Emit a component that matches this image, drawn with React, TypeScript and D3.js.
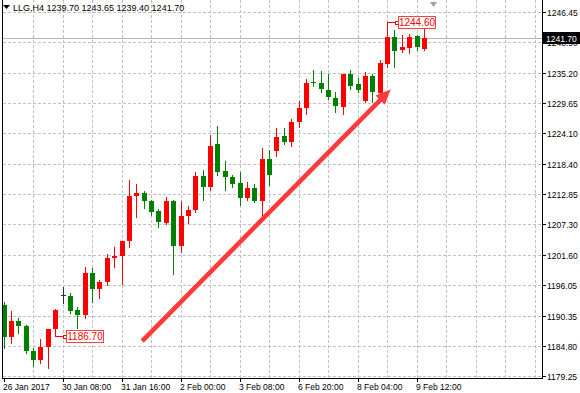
import React, { useEffect, useRef } from "react";
import * as d3 from "d3";

// LLG, H4 bars (26 Jan 2017 .. 9 Feb 2017)
const symbol = "LLG,H4";
const opens = [
  1192.35, 1186.4, 1189.4, 1188.4, 1183.9, 1182.2, 1184.6, 1187.9, 1194.2, 1194.0,
  1191.4, 1190.5, 1198.25, 1195.3, 1196.65, 1201.1, 1201.4, 1204.2, 1212.5, 1212.95,
  1211.55, 1209.7, 1207.45, 1211.6, 1203.3, 1208.85, 1209.9, 1216.15, 1214.2, 1222.0,
  1217.1, 1216.0, 1214.8, 1212.05, 1213.9, 1211.6, 1219.3, 1220.85, 1223.55, 1222.4,
  1226.1, 1228.8, 1233.6, 1233.4, 1232.05, 1230.65, 1228.9, 1234.95, 1233.1, 1230.05,
  1234.7, 1231.55, 1236.85, 1241.8, 1239.4, 1239.75, 1242.0, 1239.7
];
const highs = [
  1193.0, 1191.25, 1190.0, 1188.6, 1184.4, 1186.1, 1188.0, 1191.6, 1195.75, 1194.6,
  1192.0, 1199.4, 1199.2, 1197.0, 1201.7, 1203.05, 1204.2, 1215.45, 1214.7, 1213.4,
  1211.75, 1210.1, 1212.3, 1211.65, 1211.6, 1210.7, 1216.85, 1217.3, 1223.75, 1225.4,
  1218.95, 1216.35, 1216.85, 1215.1, 1214.7, 1221.3, 1221.0, 1225.0, 1225.0, 1226.7,
  1230.05, 1234.0, 1235.75, 1235.55, 1234.95, 1231.7, 1235.0, 1235.75, 1234.2, 1235.45,
  1234.95, 1237.6, 1244.6, 1243.1, 1242.2, 1242.4, 1242.2, 1243.65
];
const lows = [
  1184.4, 1185.35, 1187.25, 1183.45, 1181.1, 1181.65, 1180.7, 1186.7, 1192.8, 1190.9,
  1188.1, 1189.95, 1193.0, 1193.65, 1196.05, 1199.45, 1196.25, 1203.0, 1208.65, 1210.25,
  1208.95, 1206.8, 1207.3, 1198.1, 1202.1, 1207.45, 1209.45, 1211.75, 1213.6, 1216.35,
  1213.6, 1214.1, 1210.8, 1211.75, 1211.3, 1208.2, 1214.5, 1219.85, 1222.0, 1221.7,
  1225.25, 1227.6, 1232.85, 1231.7, 1230.35, 1228.0, 1227.6, 1232.25, 1231.75, 1229.9,
  1229.9, 1230.0, 1236.35, 1236.35, 1239.1, 1238.85, 1239.45, 1239.4
];
const closes = [
  1186.4, 1189.4, 1188.5, 1183.85, 1182.2, 1184.6, 1187.9, 1191.4, 1194.2, 1191.3,
  1190.5, 1198.25, 1195.3, 1196.65, 1201.1, 1201.4, 1204.15, 1212.5, 1213.0, 1211.55,
  1209.45, 1207.6, 1211.6, 1203.3, 1208.85, 1209.9, 1216.15, 1214.2, 1221.75, 1216.85,
  1216.0, 1214.7, 1212.05, 1214.0, 1211.6, 1219.3, 1216.35, 1223.3, 1222.4, 1226.1,
  1228.8, 1233.4, 1233.3, 1232.2, 1230.8, 1229.1, 1234.95, 1232.8, 1232.05, 1234.7,
  1231.75, 1237.1, 1241.8, 1239.3, 1239.95, 1241.8, 1239.95, 1241.7
];

const priceTicks = [
  1246.45, 1240.9, 1235.2, 1229.65, 1224.1, 1218.4, 1212.85, 1207.3, 1201.6, 1196.05,
  1190.35, 1184.8, 1179.25
];
const dateLabels = [
  "26 Jan 2017", "30 Jan 08:00", "31 Jan 16:00", "2 Feb 00:00",
  "3 Feb 08:00", "6 Feb 20:00", "8 Feb 04:00", "9 Feb 12:00"
];
const dateLabelBars = [0, 8, 16, 24, 32, 40, 48, 56];
const bidPrice = 1241.7;
// price labels hung on bars
const priceMarks = [
  { bar: 7, price: 1186.7 },
  { bar: 52, price: 1244.6 }
];
// drawn trend arrow (bar index, price)
const arrowFrom = { bar: 18.8, price: 1185.7 };
const arrowTo = { bar: 52.5, price: 1232.15 };

const width = 580;
const height = 393;
const frame = { left: 3, right: 542, bottom: 378 };
const barStep = 7.375;
const font = "'Liberation Sans', Arial, sans-serif";

export default function App() {
  const ref = useRef<SVGSVGElement>(null);

  useEffect(() => {
    const svg = d3.select(ref.current);
    svg.selectAll("*").remove();

    const x = d3.scaleLinear().domain([0, 72]).range([3.5, 3.5 + 72 * barStep]);
    const y = d3.scaleLinear().domain([1179.25, 1246.45]).range([376, 12]);
    const fmt = d3.format(".2f");
    const px = (i: number) => Math.round(x(i));

    svg.append("rect").attr("width", width).attr("height", height).attr("fill", "#fff");

    svg
      .append("defs")
      .append("clipPath")
      .attr("id", "plot")
      .append("rect")
      .attr("x", frame.left)
      .attr("y", 0)
      .attr("width", frame.right - frame.left)
      .attr("height", frame.bottom);

    const plot = svg.append("g").attr("clip-path", "url(#plot)");

    // grid
    const grid = plot
      .append("g")
      .attr("stroke", "#c0c0c0")
      .attr("stroke-dasharray", "3,2")
      .attr("shape-rendering", "crispEdges");
    grid
      .selectAll("line.h")
      .data(priceTicks)
      .join("line")
      .attr("class", "h")
      .attr("x1", frame.left)
      .attr("x2", frame.right)
      .attr("y1", d => Math.round(y(d)) + 0.5)
      .attr("y2", d => Math.round(y(d)) + 0.5);
    grid
      .selectAll("line.v")
      .data(d3.range(4, 73, 4))
      .join("line")
      .attr("class", "v")
      .attr("x1", d => px(d) + 0.5)
      .attr("x2", d => px(d) + 0.5)
      .attr("y1", 0)
      .attr("y2", frame.bottom);

    // bid line
    plot
      .append("line")
      .attr("x1", frame.left)
      .attr("x2", frame.right)
      .attr("y1", Math.round(y(bidPrice)) + 0.5)
      .attr("y2", Math.round(y(bidPrice)) + 0.5)
      .attr("stroke", "#b4b4b4")
      .attr("shape-rendering", "crispEdges");

    // candles
    const bars = opens.map((o, i) => ({ i, o, h: highs[i], l: lows[i], c: closes[i] }));
    const color = d => (d.c > d.o ? "#ff0000" : d.c < d.o ? "#008000" : "#303030");
    const candle = plot
      .append("g")
      .attr("shape-rendering", "crispEdges")
      .selectAll("g")
      .data(bars)
      .join("g");
    candle
      .append("line")
      .attr("x1", d => px(d.i) + 0.5)
      .attr("x2", d => px(d.i) + 0.5)
      .attr("y1", d => Math.round(y(d.h)))
      .attr("y2", d => Math.round(y(d.l)) + 1)
      .attr("stroke", color);
    candle
      .append("rect")
      .attr("x", d => px(d.i) - 2)
      .attr("width", 5)
      .attr("y", d => Math.round(y(Math.max(d.o, d.c))))
      .attr("height", d =>
        Math.max(1, Math.round(y(Math.min(d.o, d.c))) - Math.round(y(Math.max(d.o, d.c))))
      )
      .attr("fill", color);

    // arrow
    const p0 = [x(arrowFrom.bar), y(arrowFrom.price)];
    const p1 = [x(arrowTo.bar), y(arrowTo.price)];
    const len = Math.hypot(p1[0] - p0[0], p1[1] - p0[1]);
    const u = [(p1[0] - p0[0]) / len, (p1[1] - p0[1]) / len];
    const n = [-u[1], u[0]];
    const headLen = 15;
    const headHalf = 6.5;
    const shaftHalf = 2.3;
    const base = [p1[0] - u[0] * headLen, p1[1] - u[1] * headLen];
    const pt = (p, k) => [p[0] + n[0] * k, p[1] + n[1] * k];
    plot
      .append("polygon")
      .attr(
        "points",
        [
          pt(p0, shaftHalf),
          pt(base, shaftHalf),
          pt(base, headHalf),
          p1,
          pt(base, -headHalf),
          pt(base, -shaftHalf),
          pt(p0, -shaftHalf)
        ]
          .map(p => p.join(","))
          .join(" ")
      )
      .attr("fill", "#ff3a3a");

    // price marks
    const mark = plot.append("g").selectAll("g").data(priceMarks).join("g");
    mark
      .append("line")
      .attr("x1", d => px(d.bar) + 0.5)
      .attr("x2", d => px(d.bar) + 9)
      .attr("y1", d => Math.round(y(d.price)) + 0.5)
      .attr("y2", d => Math.round(y(d.price)) + 0.5)
      .attr("stroke", "#ff0000")
      .attr("shape-rendering", "crispEdges");
    mark
      .append("rect")
      .attr("x", d => px(d.bar) + 8)
      .attr("y", d => Math.round(y(d.price)) - 1)
      .attr("width", 3)
      .attr("height", 3)
      .attr("fill", "#fff")
      .attr("stroke", "#ff0000")
      .attr("shape-rendering", "crispEdges");
    mark
      .append("rect")
      .attr("x", d => px(d.bar) + 11.5)
      .attr("y", d => Math.round(y(d.price)) - 5.5)
      .attr("width", 37)
      .attr("height", 12)
      .attr("fill", "#fff")
      .attr("stroke", "#ff4040")
      .attr("shape-rendering", "crispEdges");
    mark
      .append("text")
      .attr("x", d => px(d.bar) + 30)
      .attr("y", d => Math.round(y(d.price)) + 4)
      .attr("text-anchor", "middle")
      .attr("font-family", font)
      .attr("font-size", 10)
      .attr("fill", "#ff0000")
      .text(d => fmt(d.price));

    // shift marker
    svg
      .append("path")
      .attr("d", "M430,2 L437,2 L433.5,7 Z")
      .attr("fill", "#a0a0a0");

    // frame
    svg
      .append("path")
      .attr(
        "d",
        `M${frame.left - 0.5},0 V${frame.bottom + 0.5} H${frame.right + 0.5} V0`
      )
      .attr("fill", "none")
      .attr("stroke", "#000")
      .attr("shape-rendering", "crispEdges");

    // price axis
    const yAxis = svg.append("g");
    yAxis
      .selectAll("line")
      .data(priceTicks)
      .join("line")
      .attr("x1", frame.right)
      .attr("x2", frame.right + 4)
      .attr("y1", d => Math.round(y(d)) + 0.5)
      .attr("y2", d => Math.round(y(d)) + 0.5)
      .attr("stroke", "#000")
      .attr("shape-rendering", "crispEdges");
    yAxis
      .selectAll("text")
      .data(priceTicks)
      .join("text")
      .attr("x", 547)
      .attr("y", d => Math.round(y(d)) + 3.5)
      .attr("font-family", font)
      .attr("font-size", 8.5)
      .attr("fill", "#000")
      .text(d => fmt(d));

    // bid label (covers the 1240.90 tick label, as in the terminal)
    const by = Math.round(y(bidPrice));
    svg
      .append("rect")
      .attr("x", 543)
      .attr("y", by - 6)
      .attr("width", 37)
      .attr("height", 12)
      .attr("fill", "#000");
    svg
      .append("text")
      .attr("x", 546)
      .attr("y", by + 3.5)
      .attr("font-family", font)
      .attr("font-size", 8.5)
      .attr("fill", "#fff")
      .text(fmt(bidPrice));

    // time axis
    const xAxis = svg.append("g");
    xAxis
      .selectAll("line")
      .data(dateLabelBars)
      .join("line")
      .attr("x1", d => px(d) + 0.5)
      .attr("x2", d => px(d) + 0.5)
      .attr("y1", frame.bottom)
      .attr("y2", frame.bottom + 4)
      .attr("stroke", "#000")
      .attr("shape-rendering", "crispEdges");
    xAxis
      .selectAll("text")
      .data(dateLabels)
      .join("text")
      .attr("x", (d, i) => px(dateLabelBars[i]) - 1)
      .attr("y", 390)
      .attr("font-family", font)
      .attr("font-size", 8.5)
      .attr("fill", "#000")
      .text(d => d);

    // title
    const last = opens.length - 1;
    svg
      .append("path")
      .attr("d", "M3,5 L10,5 L6.5,9 Z")
      .attr("fill", "#000");
    svg
      .append("text")
      .attr("x", 13)
      .attr("y", 11)
      .attr("font-family", font)
      .attr("font-size", 9)
      .attr("fill", "#000")
      .text(
        `${symbol} ${fmt(opens[last])} ${fmt(highs[last])} ${fmt(lows[last])} ${fmt(closes[last])}`
      );

    return () => {
      svg.selectAll("*").remove();
    };
  }, []);

  return (
    <svg
      ref={ref}
      width={width}
      height={height}
      style={{ position: "absolute", left: 0, top: 0, display: "block" }}
    />
  );
}
